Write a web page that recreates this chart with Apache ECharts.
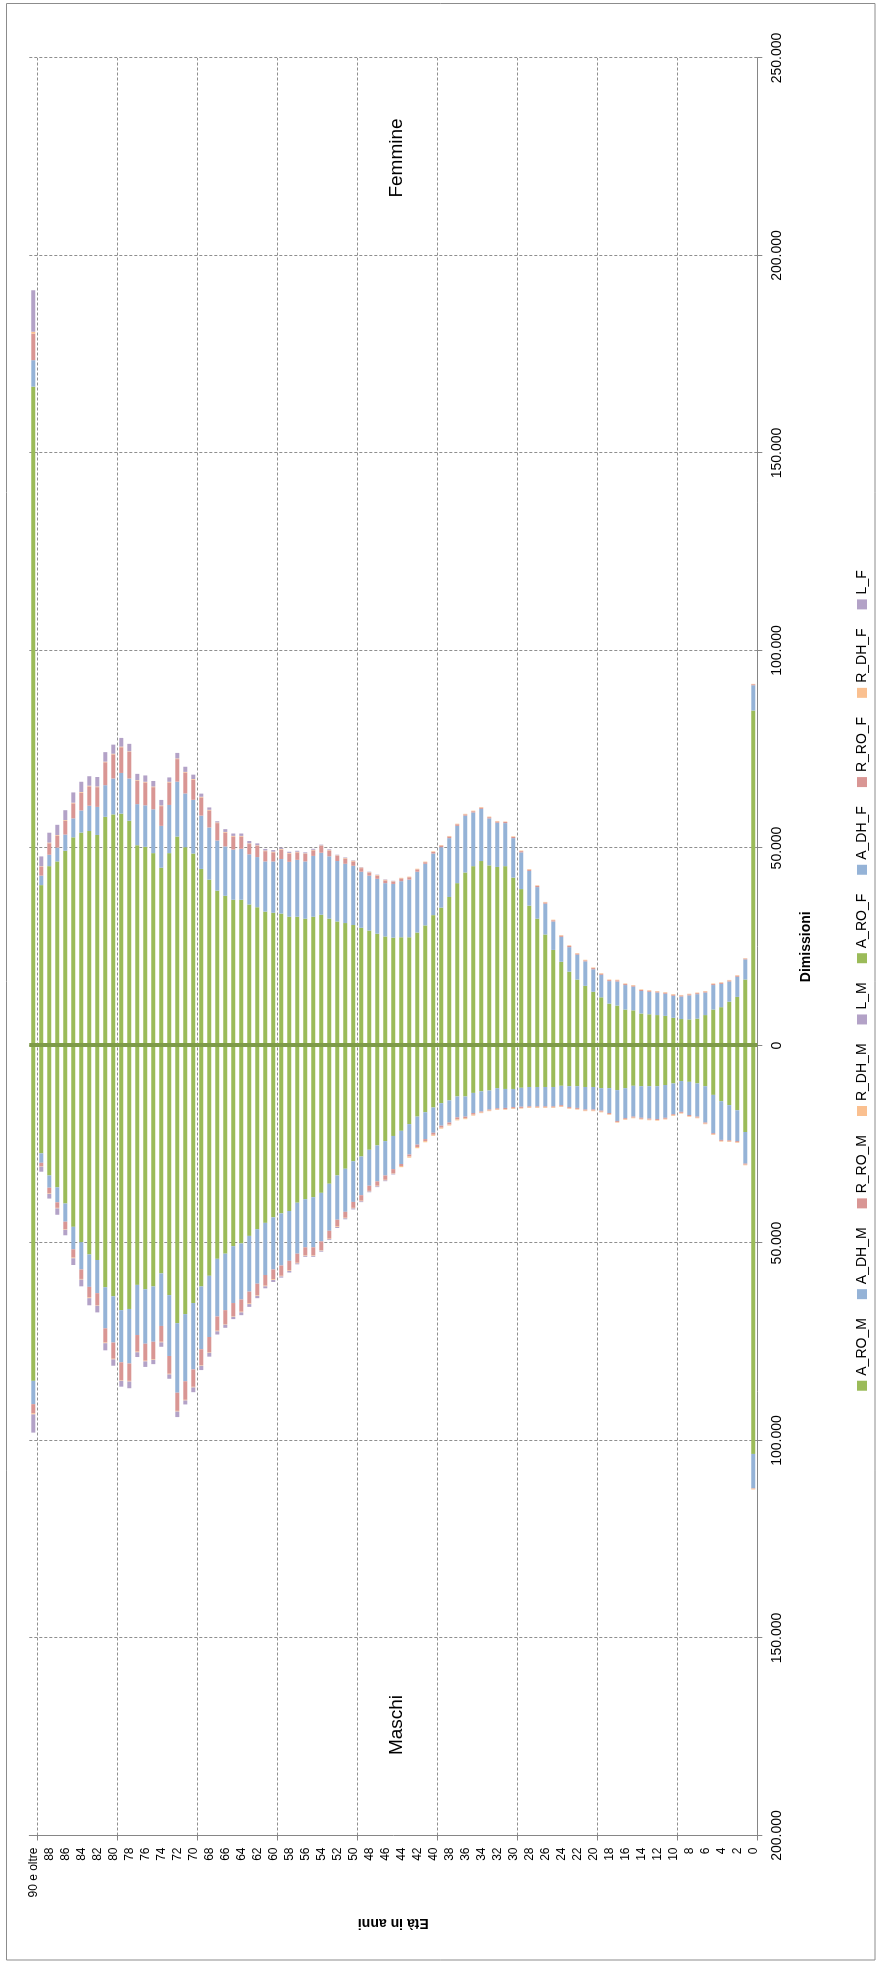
<!DOCTYPE html>
<html>
<head>
<meta charset="utf-8">
<script src="https://cdn.jsdelivr.net/npm/echarts@6/dist/echarts.min.js"></script>
<style>
  html, body { margin: 0; padding: 0; background: #fff; overflow: hidden; width: 878px; height: 1961px; }
  /* the pyramid is laid out landscape, then turned a quarter turn to stand upright on the page */
  #chart { position: absolute; left: 0; top: 0; width: 1961px; height: 878px;
           transform-origin: 0 0; transform: translateY(1961px) rotate(-90deg); }
</style>
</head>
<body>
<div id="chart"></div>
<script>
// age classes, oldest first
const ages = ['90 e oltre','89','88','87','86','85','84','83','82','81','80','79','78','77','76','75','74','73','72','71',
  '70','69','68','67','66','65','64','63','62','61','60','59','58','57','56','55','54','53','52','51',
  '50','49','48','47','46','45','44','43','42','41','40','39','38','37','36','35','34','33','32','31',
  '30','29','28','27','26','25','24','23','22','21','20','19','18','17','16','15','14','13','12','11',
  '10','9','8','7','6','5','4','3','2','1','0'];

// discharges, males (same age order)
const A_RO_M = [84900,27300,32900,35900,40000,45900,49800,52900,54300,61200,63500,67000,66700,60600,61700,61000,57700,63200,70300,68000,
  65200,61000,58300,54000,52700,50800,50100,48200,46500,44900,43500,42500,41900,39800,38900,38400,37300,35000,32900,31200,
  29300,28100,26400,25300,24200,22900,21600,19900,18000,16900,15700,14600,13900,12900,12900,12000,11600,11400,10800,11000,
  11000,10700,10500,10500,10500,10500,10200,10300,10300,10500,10500,10800,10800,11300,10800,10200,10300,10300,10300,10000,
  9600,9000,9200,9600,10300,12500,14100,15100,16400,21900,103400];
const A_DH_M = [5900,2400,3100,3800,4600,5700,6900,8200,8400,10400,11700,13200,13800,12700,13800,14000,13300,15400,17600,17000,
  16800,15900,15500,14600,14300,14400,14200,14100,13800,13200,13200,13200,12600,12900,12200,12700,12300,11900,11200,10900,
  10300,9800,9100,9100,8700,8400,8400,7700,7100,6800,6400,5700,5600,5300,5100,5100,5100,4800,5100,4800,
  4600,4800,4900,4900,4900,4900,4900,5300,5500,5700,5700,5700,6300,7800,7600,7800,8000,8200,8300,8300,
  7800,7800,8400,8400,9200,9700,9800,8900,7800,8000,8700];
const R_RO_M = [2300,800,1400,1400,1900,2100,2400,2700,3000,3600,4100,4500,4400,4200,4300,4400,4000,4500,4600,4700,
  4400,4000,3800,3600,3500,3300,3100,3000,2900,2700,2500,2600,2400,2300,2000,2000,2200,2000,1700,1500,
  1500,1400,1300,1100,1100,1000,500,500,600,500,500,500,500,500,400,400,250,250,250,300,
  300,300,250,250,250,250,300,250,250,250,250,250,250,250,250,250,250,250,250,250,
  250,250,250,250,250,250,250,250,250,250,100];
const R_DH_M = [300,150,150,150,150,170,170,170,170,170,170,170,170,170,170,170,170,170,170,170,
  170,170,170,170,170,170,170,170,170,170,170,170,170,150,150,150,150,150,150,150,
  150,150,150,150,150,150,300,300,300,300,250,250,250,250,250,250,170,170,170,170,
  170,170,170,170,170,170,170,170,170,170,170,170,170,170,170,170,170,170,170,170,
  170,170,170,170,170,170,170,170,170,170,200];
const L_M = [4600,1300,1200,1600,1400,1700,1700,1800,1700,1800,1600,1500,1700,1200,1400,1100,1100,1100,1400,1000,
  1200,1100,1000,800,800,600,700,700,600,500,500,300,400,250,250,250,250,200,250,250,
  250,200,200,200,200,200,0,0,0,0,0,0,0,0,0,0,0,0,0,0,
  0,0,0,0,0,0,0,0,0,0,0,0,0,0,0,0,0,0,0,0,
  0,0,0,0,0,0,0,0,0,0,0];

// discharges, females (same age order)
const A_RO_F = [166800,40600,45400,46600,49300,52700,53900,54300,53300,57900,58500,58700,56900,50700,50300,48700,45000,48700,52900,50200,
  48600,44700,42000,39200,37900,36900,36900,35700,35000,33900,33600,33400,32600,32600,32100,32600,33100,32100,31400,31000,
  30500,29800,29100,28300,27600,27300,27400,27400,28600,30400,33000,34900,37600,41100,43800,45400,46700,45600,45200,45400,
  42500,39600,35400,32100,28100,24200,21200,18700,16700,15100,13600,12200,10600,10100,9100,8900,8100,7900,7700,7500,
  7000,6700,6600,6800,7700,9100,9700,11100,12300,16700,84800];
const A_DH_F = [6700,2400,2900,3500,4100,4800,5600,6400,7100,8000,9100,10300,10700,10400,10500,11100,10600,12200,13900,13600,
  13600,13500,13200,12700,12500,12700,12900,12700,12700,12700,13000,13800,13900,14400,14500,15400,15700,15800,15300,15000,
  15000,14200,13900,13900,13500,13600,14200,14600,15400,15600,15600,15300,14900,14500,14400,13600,13200,11900,11200,10900,
  10000,9300,8800,8000,7800,7200,6300,6200,6300,6200,5700,5700,5700,6100,6200,6000,5700,5700,5700,5600,
  5600,5700,6100,6200,5700,6200,5900,5100,5100,5100,6400];
const R_RO_F = [6700,2200,2900,3000,3500,3800,4500,4900,5000,5800,6100,6500,6700,5900,5800,5600,5000,5700,5700,5300,
  5100,4600,4300,4400,3500,3300,3100,2600,2800,2600,2300,2400,2100,1900,1900,1400,1700,1400,1300,1300,
  1100,900,800,800,700,600,700,600,600,400,400,400,400,400,300,300,300,300,300,300,
  300,300,300,300,300,300,300,300,250,250,300,250,250,300,250,250,250,250,250,250,
  250,250,250,250,250,250,250,250,250,200,250];
const R_DH_F = [500,170,170,170,170,170,170,170,170,170,170,170,170,170,170,170,170,170,170,170,
  170,170,170,170,170,170,170,170,170,170,170,170,150,150,150,150,150,150,150,150,
  150,150,100,150,150,100,150,150,150,150,150,150,150,150,150,150,150,150,150,100,
  150,150,150,150,150,150,150,150,150,150,150,150,150,150,150,150,150,150,150,150,
  150,150,150,150,150,150,150,150,150,100,100];
const L_F = [10500,2500,2500,2600,2500,2600,2600,2400,2400,2400,2300,2200,1900,1600,1600,1400,1400,1100,1400,1300,
  1100,800,600,300,700,600,600,600,500,400,400,300,300,250,250,250,200,200,150,150,
  120,100,100,100,100,100,0,0,0,0,0,0,0,0,0,0,0,0,0,0,
  0,0,0,0,0,0,0,0,0,0,0,0,0,0,0,0,0,0,0,0,
  0,0,0,0,0,0,0,0,0,0,0];

const valueTicks = { min: -200000, max: 250000, step: 50000 };

const FONT = '"Liberation Sans", Arial, sans-serif';
const AXIS = '#868686';
const GRID = '#8f8f8f';
const DASH = [3, 2];

function thousands(v) {
  return String(Math.abs(v)).replace(/\B(?=(\d{3})+(?!\d))/g, '.');
}
// one line every ten age classes, on the boundary between classes
const everyTen = (i) => i % 10 === 1;

function bar(name, values, stack, color, male) {
  return {
    name: name, type: 'bar', stack: stack,
    data: values.map(v => male ? -v : v),
    barWidth: 4, barGap: '-100%',
    itemStyle: { color: color },
    emphasis: { disabled: true }
  };
}

const series = [
  bar('A_RO_M', A_RO_M, 'M', '#9BBB59', true),
  bar('A_DH_M', A_DH_M, 'M', '#95B3D7', true),
  bar('R_RO_M', R_RO_M, 'M', '#D99694', true),
  bar('R_DH_M', R_DH_M, 'M', '#FAC090', true),
  bar('L_M', L_M, 'M', '#B3A2C7', true),
  bar('A_RO_F', A_RO_F, 'F', '#9BBB59', false),
  bar('A_DH_F', A_DH_F, 'F', '#95B3D7', false),
  bar('R_RO_F', R_RO_F, 'F', '#D99694', false),
  bar('R_DH_F', R_DH_F, 'F', '#FAC090', false),
  bar('L_F', L_F, 'F', '#B3A2C7', false)
];
// the age axis crosses at zero discharges
series[0].markLine = {
  silent: true, symbol: 'none', label: { show: false },
  lineStyle: { color: '#7E9B48', width: 4, type: 'solid' },
  data: [{ xAxis: 0 }]
};

const chart = echarts.init(document.getElementById('chart'), null, { renderer: 'canvas' });
chart.setOption({
  animation: false,
  backgroundColor: '#ffffff',
  textStyle: { fontFamily: FONT },
  grid: { left: 125.5, right: 58, top: 29.3, bottom: 120.7, containLabel: false },
  xAxis: {
    type: 'value', min: valueTicks.min, max: valueTicks.max, interval: valueTicks.step,
    position: 'bottom',
    name: 'Dimissioni', nameLocation: 'middle', nameGap: 42,
    nameTextStyle: { fontFamily: FONT, fontWeight: 'bold', fontSize: 14, color: '#000' },
    axisLine: { show: true, onZero: false, lineStyle: { color: AXIS, width: 1 } },
    axisTick: { show: true, length: 5, lineStyle: { color: AXIS } },
    axisLabel: { formatter: thousands, fontFamily: FONT, fontSize: 14, color: '#000', margin: 13 },
    splitLine: { show: true, lineStyle: { color: GRID, width: 1, type: DASH } }
  },
  yAxis: {
    type: 'category', data: ages, inverse: true, boundaryGap: true,
    name: 'Età in anni', nameLocation: 'middle', nameGap: 80, nameRotate: 90,
    nameTextStyle: { fontFamily: FONT, fontWeight: 'bold', fontSize: 14, color: '#000' },
    axisLine: { show: true, onZero: false, lineStyle: { color: AXIS, width: 1 } },
    axisTick: { show: true, length: 5, interval: everyTen, lineStyle: { color: AXIS } },
    axisLabel: { interval: 1, fontFamily: FONT, fontSize: 12, color: '#000', margin: 12 },
    splitLine: { show: true, interval: everyTen, lineStyle: { color: GRID, width: 1, type: DASH } }
  },
  legend: {
    data: series.map(s => s.name),
    left: 'center', top: 850,
    icon: 'rect', itemWidth: 10, itemHeight: 10, itemGap: 19,
    textStyle: { fontFamily: FONT, fontSize: 14, color: '#000' }
  },
  graphic: [
    { type: 'rect', silent: true, z: -10,
      shape: { x: 1, y: 6.5, width: 1956.5, height: 868.5 },
      style: { fill: null, stroke: '#8c8c8c', lineWidth: 1 } },
    { type: 'text', silent: true, x: 236, y: 397,
      style: { text: 'Maschi', font: '19px ' + FONT, fill: '#000', align: 'center', verticalAlign: 'middle' } },
    { type: 'text', silent: true, x: 1803, y: 397,
      style: { text: 'Femmine', font: '19px ' + FONT, fill: '#000', align: 'center', verticalAlign: 'middle' } }
  ],
  series: series
});
</script>
</body>
</html>
